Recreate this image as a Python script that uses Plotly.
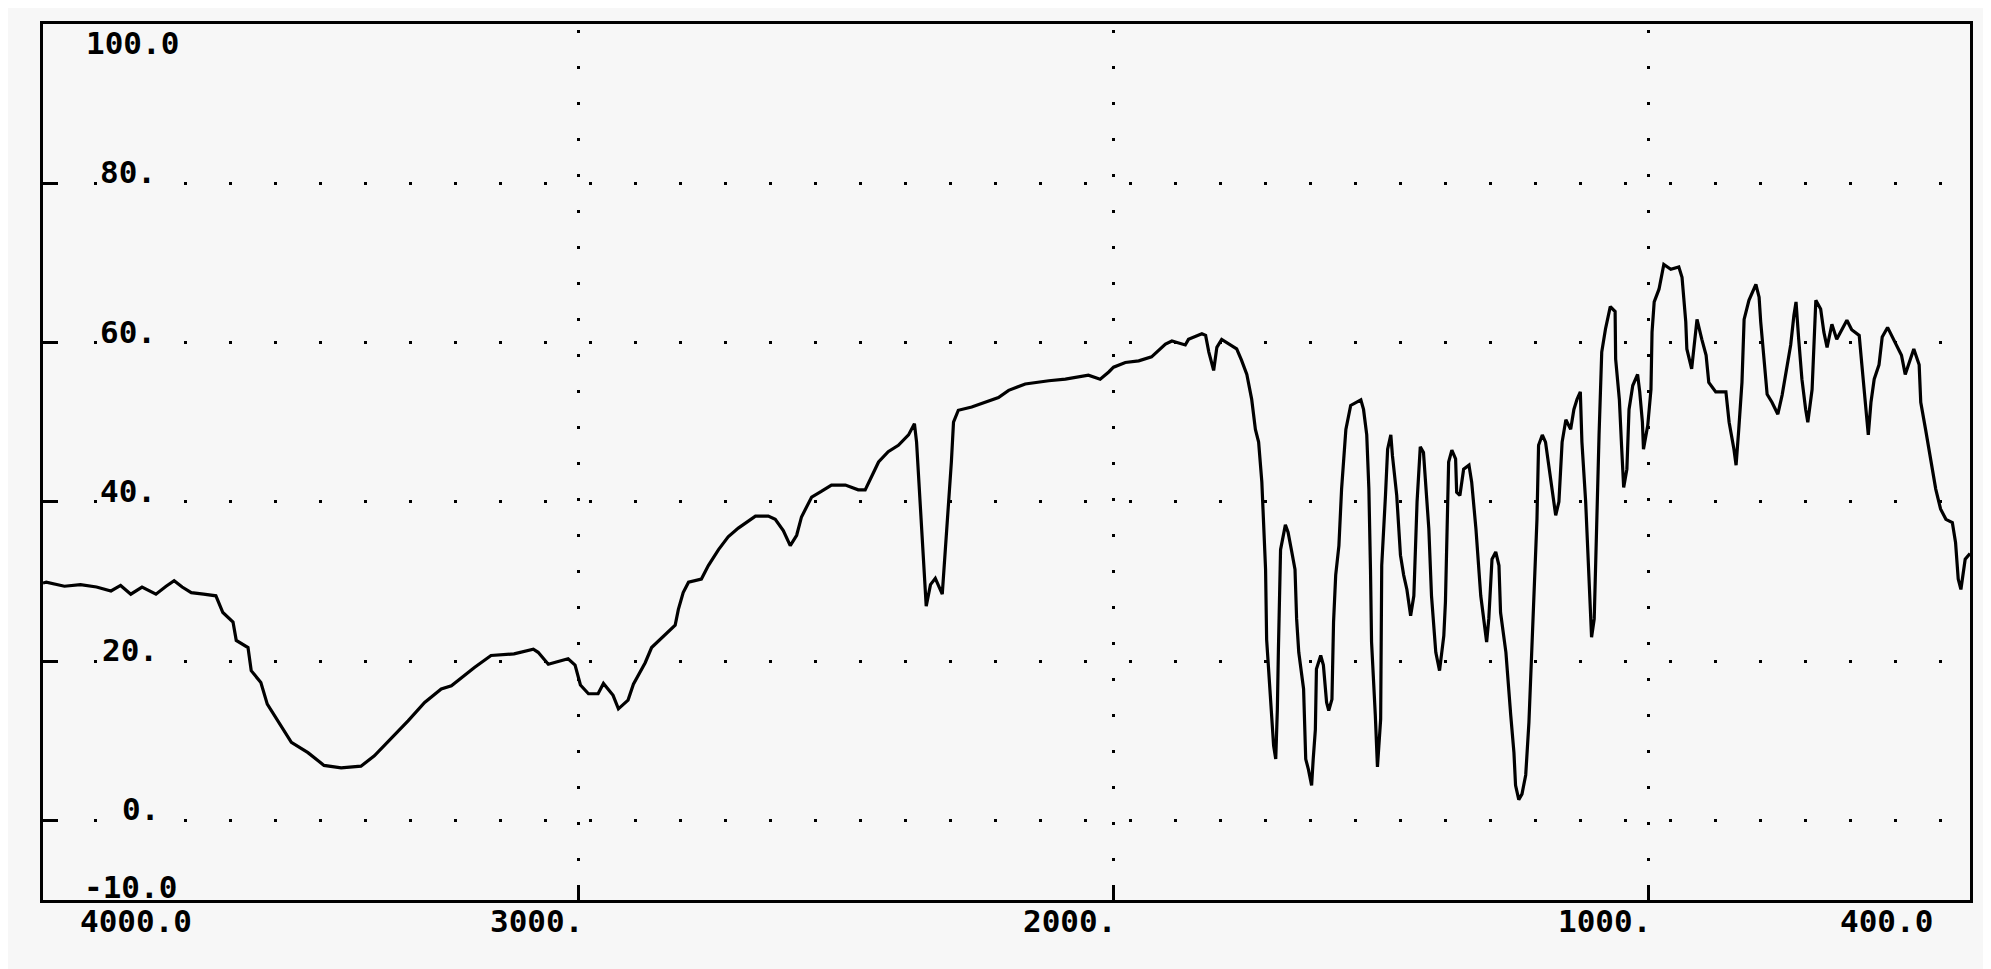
import plotly.graph_objects as go

# ---------------- data ----------------
wavenumber = [
    4000, 3994, 3960, 3930, 3900, 3873, 3855, 3836, 3815, 3789, 3770, 3755, 3740, 3723, 3700,
    3677, 3664, 3645, 3639, 3617, 3611, 3593, 3581, 3555, 3536, 3505, 3475, 3443, 3406, 3381,
    3350, 3318, 3287, 3256, 3237, 3194, 3163, 3120, 3084, 3075, 3056, 3019, 3006, 2996, 2981,
    2963, 2953, 2935, 2925, 2907, 2897, 2875, 2863, 2832, 2819, 2813, 2804, 2794, 2770, 2757,
    2738, 2720, 2701, 2669, 2645, 2632, 2617, 2604, 2592, 2583, 2564, 2546, 2527, 2501, 2477,
    2464, 2452, 2439, 2421, 2402, 2383, 2372, 2368, 2364, 2359, 2353, 2350, 2342, 2333, 2320,
    2314, 2308, 2303, 2299, 2290, 2265, 2239, 2215, 2196, 2165, 2121, 2090, 2047, 2025, 2009,
    2000, 1978, 1953, 1929, 1903, 1891, 1866, 1860, 1841, 1835, 1828, 1822, 1813, 1807, 1798,
    1785, 1770, 1761, 1751, 1742, 1735, 1729, 1723, 1720, 1716, 1714, 1707, 1701, 1697, 1694,
    1692, 1688, 1679, 1674, 1667, 1661, 1658, 1654, 1645, 1641, 1636, 1630, 1627, 1623, 1621,
    1613, 1608, 1602, 1598, 1592, 1589, 1585, 1579, 1574, 1566, 1557, 1538, 1533, 1527, 1523,
    1520, 1518, 1511, 1507, 1501, 1499, 1492, 1488, 1482, 1479, 1471, 1464, 1458, 1452, 1445,
    1439, 1433, 1427, 1421, 1417, 1411, 1406, 1398, 1391, 1383, 1380, 1377, 1374, 1368, 1361,
    1359, 1353, 1346, 1336, 1331, 1323, 1314, 1308, 1303, 1299, 1293, 1286, 1280, 1277, 1267,
    1258, 1252, 1249, 1243, 1237, 1230, 1224, 1218, 1212, 1209, 1206, 1199, 1193, 1187, 1181,
    1174, 1168, 1162, 1155, 1146, 1140, 1134, 1128, 1125, 1118, 1112, 1109, 1107, 1102, 1097,
    1093, 1088, 1081, 1072, 1063, 1062, 1055, 1051, 1047, 1041, 1037, 1030, 1021, 1017, 1012,
    1010, 1002, 996, 994, 990, 981, 972, 959, 944, 938, 931, 929, 920, 912, 910,
    901, 893, 888, 875, 856, 850, 841, 837, 832, 826, 822, 813, 800, 794, 791,
    785, 779, 770, 759, 751, 742, 735, 729, 725, 720, 714, 707, 703, 695, 692,
    688, 679, 673, 667, 658, 649, 639, 630, 621, 607, 602, 595, 590, 585, 579,
    570, 564, 554, 547, 538, 528, 521, 514, 505, 495, 492, 483, 473, 464, 455,
    445, 433, 427, 422, 417, 409, 400,
]
transmittance = [
    29.8, 29.9, 29.4, 29.6, 29.3, 28.8, 29.5, 28.4, 29.3, 28.4, 29.4, 30.1, 29.3, 28.6, 28.4,
    28.2, 26.1, 24.9, 22.6, 21.7, 18.8, 17.3, 14.6, 11.9, 9.8, 8.5, 6.9, 6.6, 6.8, 8.1,
    10.2, 12.5, 14.8, 16.5, 16.9, 19.2, 20.7, 20.9, 21.5, 21.1, 19.6, 20.3, 19.5, 17.0, 15.9,
    15.9, 17.2, 15.7, 14.0, 15.1, 17.1, 19.8, 21.7, 23.6, 24.5, 26.5, 28.6, 29.9, 30.3, 32.0,
    34.0, 35.6, 36.7, 38.2, 38.2, 37.8, 36.4, 34.5, 35.8, 38.1, 40.6, 41.3, 42.1, 42.1, 41.5,
    41.5, 43.1, 45.0, 46.3, 47.1, 48.4, 49.8, 47.5, 42.7, 36.8, 29.5, 26.9, 29.6, 30.4, 28.4,
    34.0, 39.5, 45.0, 50.0, 51.5, 51.9, 52.5, 53.1, 54.0, 54.8, 55.2, 55.4, 55.9, 55.4, 56.3,
    56.9, 57.5, 57.7, 58.2, 59.8, 60.2, 59.7, 60.4, 60.9, 61.1, 60.9, 58.8, 56.5, 59.4, 60.4,
    59.8, 59.2, 57.8, 56.0, 52.9, 49.1, 47.5, 42.5, 37.8, 31.5, 22.7, 14.8, 9.4, 7.7, 13.9,
    21.5, 34.0, 37.1, 36.2, 33.7, 31.5, 25.3, 21.1, 16.5, 7.7, 6.4, 4.4, 7.7, 11.4, 19.0,
    20.7, 19.5, 14.8, 13.8, 15.2, 24.9, 30.8, 34.5, 41.6, 49.1, 52.1, 52.8, 51.6, 48.4, 41.6,
    31.5, 22.4, 13.2, 6.7, 12.7, 32.0, 40.8, 46.6, 48.4, 45.8, 40.8, 33.3, 30.8, 29.0, 25.7,
    28.2, 40.0, 46.9, 46.2, 42.5, 36.6, 28.2, 21.1, 18.8, 23.2, 27.4, 34.5, 45.0, 46.5, 45.4,
    41.2, 40.8, 44.1, 44.6, 42.5, 36.6, 28.2, 25.3, 22.4, 25.3, 32.8, 33.7, 32.0, 26.1, 21.1,
    13.2, 8.5, 4.4, 2.6, 3.3, 5.7, 12.3, 22.0, 31.5, 37.8, 47.1, 48.4, 47.5, 44.6, 41.6,
    38.3, 40.0, 47.5, 50.3, 49.1, 51.6, 52.9, 53.8, 47.5, 40.0, 31.5, 26.1, 23.0, 25.3, 40.0,
    48.4, 58.8, 61.7, 64.5, 63.9, 57.9, 52.8, 47.1, 41.8, 44.1, 51.6, 54.6, 56.0, 53.8, 50.0,
    46.6, 49.6, 54.1, 61.3, 65.1, 66.7, 69.8, 69.2, 69.5, 68.2, 62.6, 59.2, 56.7, 61.3, 62.9,
    60.4, 58.4, 55.0, 53.8, 53.8, 50.0, 46.6, 44.6, 49.1, 55.0, 62.9, 65.3, 67.3, 65.7, 62.6,
    58.4, 53.5, 52.5, 51.0, 53.4, 56.7, 59.7, 63.4, 65.1, 60.4, 55.4, 51.6, 50.0, 54.1, 59.2,
    65.3, 64.2, 61.3, 59.4, 62.3, 60.4, 61.7, 62.8, 61.6, 60.9, 57.2, 51.6, 48.4, 52.5, 55.4,
    57.2, 60.7, 61.9, 60.9, 59.7, 58.4, 56.0, 57.5, 59.2, 57.2, 52.5, 49.1, 45.4, 41.6, 39.1,
    37.8, 37.4, 34.9, 30.3, 29.0, 32.8, 33.5,
]

x_label_values = [4000, 3000, 2000, 1000, 400]
x_label_text = ["4000.0", "3000.", "2000.", "1000.", "400.0"]
y_label_values = [100, 80, 60, 40, 20, 0, -10]
y_label_text = ["100.0", "80.", "60.", "40.", "20.", "0.", "-10.0"]
x_grid_values = [3000, 2000, 1000]
y_grid_values = [80, 60, 40, 20, 0]

# ---------------- styling ----------------
BG = "#f7f7f7"
INK = "#000000"
FONT = dict(family="DejaVu Sans Mono", size=31, color=INK)

x_label_xshift = [93, -42, -44, -44, -84]
y_label_xshift = [89, 85, 85, 85, 87, 97, 87]
y_label_yshift = [-19, 11, 11, 11, 11, 11, 13]

fig = go.Figure()
fig.add_trace(go.Scatter(
    x=wavenumber, y=transmittance, mode="lines",
    line=dict(color=INK, width=3.2), hoverinfo="skip", showlegend=False,
))

annotations = []
for v, t, dx in zip(x_label_values, x_label_text, x_label_xshift):
    annotations.append(dict(
        x=v, xref="x", y=0, yref="paper", text="<b>" + t + "</b>",
        showarrow=False, xanchor="center", yanchor="middle",
        xshift=dx, yshift=-21, font=FONT,
    ))
for v, t, dx, dy in zip(y_label_values, y_label_text, y_label_xshift, y_label_yshift):
    inner = v in y_grid_values
    annotations.append(dict(
        x=4000, xref="x", y=v, yref="y", text="<b>" + t + "</b>",
        showarrow=False, xanchor="center", yanchor="middle",
        xshift=dx, yshift=dy, font=FONT,
        bgcolor=BG if inner else "rgba(0,0,0,0)", borderpad=0,
    ))

# the page body adds an 8px offset, so the figure is sized to fill the rest
fig.update_layout(
    width=1983, height=961,
    margin=dict(l=35, r=21, t=16, b=69),
    paper_bgcolor=BG, plot_bgcolor=BG,
    annotations=annotations,
    showlegend=False,
)
fig.update_xaxes(
    range=[4000, 400], tickvals=x_grid_values, showticklabels=False,
    ticks="inside", ticklen=15, tickwidth=3, tickcolor=INK,
    showline=True, linecolor=INK, linewidth=3, mirror=True,
    showgrid=True, gridcolor=INK, gridwidth=3, griddash="0px,6px,3px,27px",
    zeroline=False,
)
fig.update_yaxes(
    range=[-10, 100], tickvals=y_grid_values, showticklabels=False,
    ticks="inside", ticklen=15, tickwidth=3, tickcolor=INK,
    showline=True, linecolor=INK, linewidth=3, mirror=True,
    showgrid=True, gridcolor=INK, gridwidth=3, griddash="0px,6px,3px,36px",
    zeroline=False,
)

fig.write_html("out.html")
